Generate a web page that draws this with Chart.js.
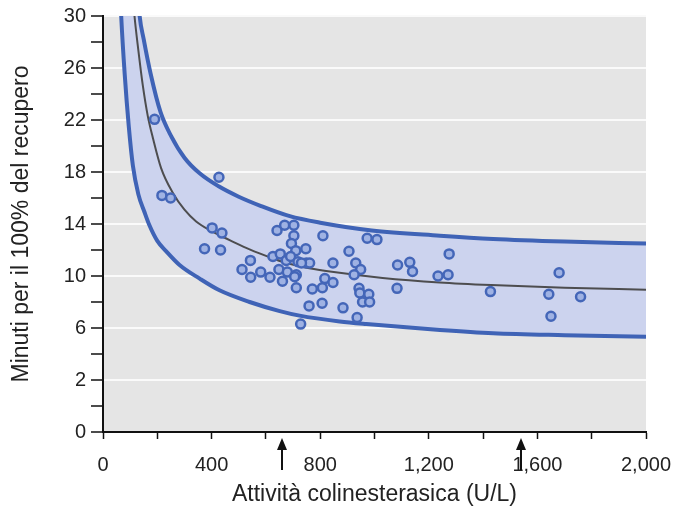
<!DOCTYPE html>
<html>
<head>
<meta charset="utf-8">
<script src="https://cdn.jsdelivr.net/npm/chart.js@4.4.1/dist/chart.umd.min.js"></script>
<style>
  html, body { margin: 0; padding: 0; background: #fff; }
  #wrap { width: 679px; height: 509px; }
</style>
</head>
<body>
<div id="wrap"><canvas id="myChart"></canvas></div>
<script>
// measured patients: cholinesterase activity (U/L) vs minutes to 100% recovery
const pointX = [190, 217, 249, 427, 402, 438, 374, 433, 543, 512, 544, 581, 615,
  641, 669, 703, 703, 694, 710, 626, 653, 675, 691, 718, 648, 679, 712, 661, 712, 728, 749,
  810, 973, 1009, 747, 906, 761, 731, 847, 931, 949, 925, 1085, 706, 817, 847, 808, 771,
  943, 946, 979, 956, 982, 1083, 759, 807, 884, 936,
  1130, 1140, 1275, 1234, 1271, 1427, 1680, 1642, 1759, 1650];
const pointY = [22.05, 16.2, 16.0, 17.6, 13.7, 13.3, 12.1, 12.0, 11.2, 10.5, 9.9, 10.3, 9.9,
  13.5, 13.9, 13.9, 13.1, 12.5, 11.95, 11.5, 11.7, 11.2, 11.5, 11.1, 10.5, 10.3, 10.1, 9.6, 9.1, 6.3, 11.0,
  13.1, 12.9, 12.8, 12.1, 11.9, 11.0, 11.0, 11.0, 11.0, 10.5, 10.1, 10.85, 9.95, 9.8, 9.5, 9.1, 9.0,
  9.05, 8.7, 8.6, 8.0, 8.0, 9.05, 7.7, 7.9, 7.55, 6.8,
  11.05, 10.35, 11.7, 10.0, 10.1, 8.8, 10.25, 8.6, 8.4, 6.9];

// fitted curve (middle) and its band (upper / lower)
const midX = [100, 116, 130, 147, 165, 184, 214, 257, 300, 343, 400, 442, 470, 540, 626, 660, 760, 850, 1030, 1240, 1430, 1700, 2000];
const midY = [34, 30, 27.4, 24.6, 22.3, 20.6, 18.3, 16.4, 15.1, 14.2, 13.45, 13.0, 12.72, 12.05, 11.35, 11.1, 10.6, 10.3, 9.85, 9.5, 9.3, 9.1, 8.95];

const upperX = [60, 100, 135, 150, 175, 212, 250, 300, 356, 426, 500, 580, 688, 800, 990, 1241, 1437, 1700, 2000];
const upperY = [70, 40, 30, 28.2, 25.6, 22.6, 20.8, 19.1, 17.9, 16.9, 16.1, 15.4, 14.6, 14.1, 13.5, 13.1, 12.85, 12.65, 12.5];

const lowerX = [55, 67, 80, 95, 110, 130, 153, 171, 200, 233, 282, 356, 429, 540, 651, 724, 872, 970, 1241, 1437, 1700, 2000];
const lowerY = [36, 30, 25.5, 21.5, 18.5, 16.3, 14.9, 13.9, 12.7, 11.9, 10.85, 9.8, 8.9, 8.0, 7.3, 6.95, 6.5, 6.3, 5.85, 5.6, 5.45, 5.33];

// arrows under the x axis
const arrowX = [660, 1540];

const xTicks = [0, 400, 800, 1200, 1600, 2000];
const yTicks = [2, 6, 10, 14, 18, 22, 26, 30];

function toXY(xs, ys) {
    return xs.map((x, i) => ({ x: x, y: ys[i] }));
}

const blue = '#3f63b6';
const tickFont = { family: 'Liberation Sans, Arial, sans-serif', size: 20 };
const titleFont = { family: 'Liberation Sans, Arial, sans-serif', size: 23 };

const bgPlugin = {
    id: 'bg',
    beforeDraw(chart) {
        const a = chart.chartArea;
        const ctx = chart.ctx;
        ctx.save();
        ctx.fillStyle = '#e5e5e5';
        ctx.fillRect(a.left, a.top, a.right - a.left, a.bottom - a.top);
        ctx.restore();
    }
};

const arrowPlugin = {
    id: 'arrows',
    afterDraw(chart) {
        const ctx = chart.ctx;
        const xs = chart.scales.x;
        const top = chart.chartArea.bottom + 6;
        ctx.save();
        ctx.strokeStyle = '#111';
        ctx.fillStyle = '#111';
        ctx.lineWidth = 2;
        for (let v of arrowX) {
            const px = Math.round(xs.getPixelForValue(v));
            ctx.beginPath();
            ctx.moveTo(px, top + 8);
            ctx.lineTo(px, top + 32);
            ctx.stroke();
            ctx.beginPath();
            ctx.moveTo(px, top);
            ctx.lineTo(px - 5, top + 12);
            ctx.lineTo(px + 5, top + 12);
            ctx.closePath();
            ctx.fill();
        }
        ctx.restore();
    }
};

const lineStyle = {
    showLine: true,
    pointRadius: 0,
    pointHoverRadius: 0,
    cubicInterpolationMode: 'monotone'
};

new Chart(document.getElementById('myChart'), {
    type: 'scatter',
    data: {
        datasets: [
            {
                label: 'pazienti',
                data: toXY(pointX, pointY),
                pointRadius: 4.5,
                pointBorderWidth: 2.5,
                pointBackgroundColor: '#9fb2e3',
                pointBorderColor: '#4466b8',
                order: 0
            },
            Object.assign({
                label: 'media',
                data: toXY(midX, midY),
                borderColor: '#4d4d4f',
                borderWidth: 2,
                order: 1
            }, lineStyle),
            Object.assign({
                label: 'limite inferiore',
                data: toXY(lowerX, lowerY),
                borderColor: blue,
                borderWidth: 4,
                order: 2
            }, lineStyle),
            Object.assign({
                label: 'limite superiore',
                data: toXY(upperX, upperY),
                borderColor: blue,
                borderWidth: 4,
                backgroundColor: '#ccd3ee',
                fill: 2,
                order: 3
            }, lineStyle)
        ]
    },
    options: {
        responsive: true,
        maintainAspectRatio: false,
        animation: false,
        layout: { padding: { top: 16, right: 33, left: 0, bottom: 0 } },
        plugins: {
            legend: { display: false },
            tooltip: { enabled: false }
        },
        scales: {
            x: {
                type: 'linear',
                min: 0,
                max: 2000,
                afterFit(scale) {
                    scale.height = 77;
                    scale.paddingLeft = 0;
                    scale.paddingRight = 0;
                },
                border: { color: '#111', width: 2 },
                grid: { drawOnChartArea: false, tickLength: 7, tickColor: '#111', tickWidth: 1.5 },
                ticks: {
                    stepSize: 200,
                    color: '#222',
                    font: tickFont,
                    padding: 14,
                    maxRotation: 0,
                    autoSkip: false,
                    callback: (v) => xTicks.includes(v) ? v.toLocaleString('en-US') : ''
                },
                title: {
                    display: true,
                    text: 'Attività colinesterasica (U/L)',
                    color: '#222',
                    font: titleFont,
                    padding: { top: 0, bottom: 1 }
                }
            },
            y: {
                type: 'linear',
                min: -2,
                max: 30,
                afterFit(scale) {
                    scale.width = 103;
                    scale.paddingTop = 0;
                    scale.paddingBottom = 0;
                },
                border: { color: '#111', width: 2 },
                grid: {
                    tickLength: 12,
                    tickColor: '#111',
                    tickWidth: 1.5,
                    lineWidth: 2,
                    color: (c) => (c.tick && yTicks.includes(c.tick.value) ? '#fafafa' : 'rgba(0,0,0,0)')
                },
                ticks: {
                    stepSize: 2,
                    color: '#222',
                    font: tickFont,
                    padding: 5,
                    autoSkip: false,
                    // bottom of the axis is printed as 0 in the original figure
                    callback: (v) => v === -2 ? '0' : (yTicks.includes(v) ? String(v) : '')
                },
                title: {
                    display: true,
                    text: 'Minuti per il 100% del recupero',
                    color: '#222',
                    font: titleFont,
                    padding: { top: 8, bottom: 0 }
                }
            }
        }
    },
    plugins: [bgPlugin, arrowPlugin]
});
</script>
</body>
</html>
